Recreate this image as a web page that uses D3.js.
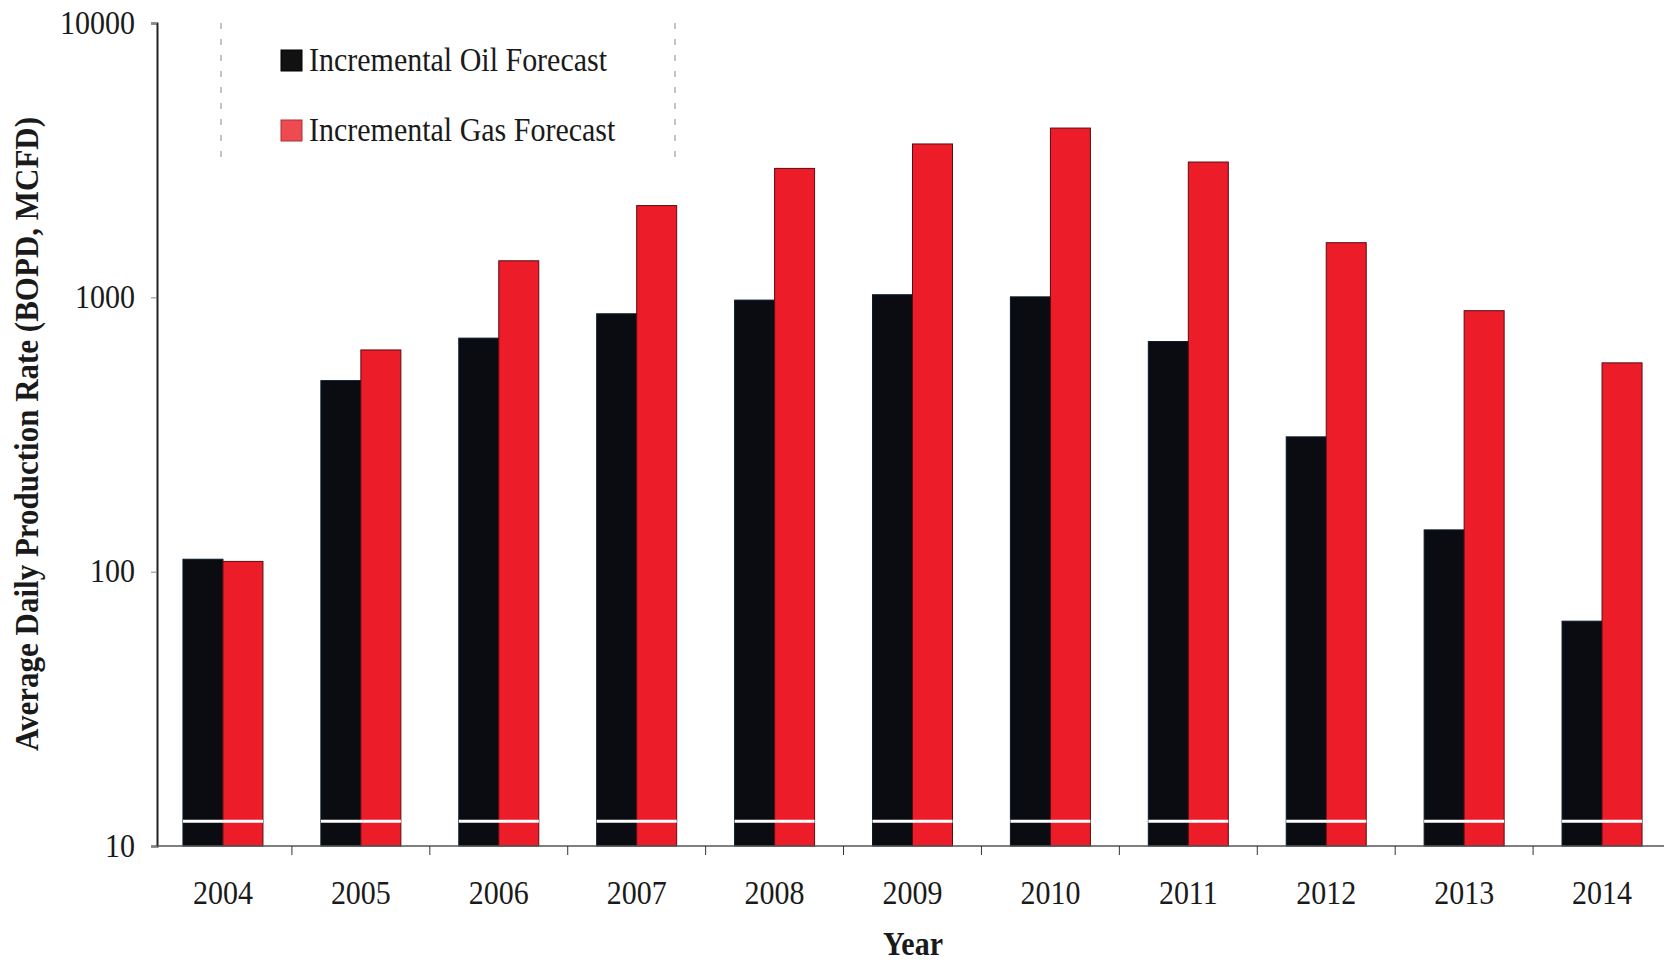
<!DOCTYPE html>
<html>
<head>
<meta charset="utf-8">
<script src="https://cdn.jsdelivr.net/npm/d3@7"></script>
<style>
  body { margin: 0; background: #fff; }
  text { font-family: "Liberation Serif", "Times New Roman", serif; fill: #1a1a1a; }
</style>
</head>
<body>
<div id="plot-container"></div>
<script>
// Data
const years = ["2004", "2005", "2006", "2007", "2008", "2009", "2010", "2011", "2012", "2013", "2014"];
const oilForecast = [111, 497, 710, 871, 977, 1022, 1004, 690, 310, 142, 66];
const gasForecast = [109, 643, 1359, 2160, 2951, 3623, 4140, 3113, 1582, 894, 577];
const seriesNames = ["Incremental Oil Forecast", "Incremental Gas Forecast"];
const seriesColors = ["#0b0b12", "#ec1c28"];
const yTicks = [10, 100, 1000, 10000];
const breakValue = 12.3; // white break line drawn across the bars

const W = 1664, H = 962;
const stretch = 1.1; // the scanned lettering is a little taller than normal

const svg = d3.select("#plot-container")
    .append("svg")
    .attr("width", W)
    .attr("height", H);

// Scales
const x = d3.scaleBand()
    .domain(years)
    .range([154, 1671])
    .padding(0);

const y = d3.scaleLog()
    .domain([10, 10000])
    .range([846, 23]);

const barW = 40;
const rows = years.map((yr, i) => ({ year: yr, values: [oilForecast[i], gasForecast[i]] }));

// Bars
const groups = svg.selectAll(".grp")
    .data(rows)
    .enter()
    .append("g")
    .attr("class", "grp")
    .attr("transform", d => `translate(${x(d.year) + x.bandwidth() / 2 - barW},0)`);

groups.selectAll("rect")
    .data(d => d.values)
    .enter()
    .append("rect")
    .attr("x", (d, i) => i * barW)
    .attr("y", d => y(d))
    .attr("width", barW)
    .attr("height", d => y(10) - y(d))
    .attr("fill", (d, i) => seriesColors[i])
    .attr("stroke", (d, i) => i === 0 ? "#0a1a2a" : "#5a0c10")
    .attr("stroke-width", 1);

// white break line through each pair of bars
groups.append("line")
    .attr("x1", 0)
    .attr("x2", barW * 2)
    .attr("y1", y(breakValue))
    .attr("y2", y(breakValue))
    .attr("stroke", "#fff")
    .attr("stroke-width", 3);

// Y axis
const yAxis = svg.append("g")
    .attr("transform", "translate(157,0)")
    .call(d3.axisLeft(y).tickValues(yTicks).tickFormat(d3.format("d")).tickSize(6).tickPadding(16));
yAxis.select(".domain").attr("stroke", "#222").attr("stroke-width", 2);
yAxis.selectAll(".tick line").attr("stroke", "#888");
yAxis.selectAll(".tick text")
    .style("font-size", "30px")
    .attr("fill", "#1a1a1a")
    .attr("dy", null)
    .attr("x", null)
    .attr("transform", `translate(-22,10) scale(1,${stretch})`);

// X axis: line, boundary ticks, year labels
svg.append("line")
    .attr("x1", 157).attr("x2", W)
    .attr("y1", y(10)).attr("y2", y(10))
    .attr("stroke", "#555").attr("stroke-width", 1.5);

svg.selectAll(".xtick")
    .data(years.slice(0, -1))
    .enter()
    .append("line")
    .attr("class", "xtick")
    .attr("x1", d => x(d) + x.bandwidth())
    .attr("x2", d => x(d) + x.bandwidth())
    .attr("y1", y(10))
    .attr("y2", y(10) + 9)
    .attr("stroke", "#333");

svg.selectAll(".xlabel")
    .data(years)
    .enter()
    .append("text")
    .attr("class", "xlabel")
    .attr("transform", d => `translate(${x(d) + x.bandwidth() / 2},904) scale(1,${stretch})`)
    .style("text-anchor", "middle")
    .style("font-size", "30px")
    .text(d => d);

// Axis titles
svg.append("text")
    .attr("transform", `translate(913,955) scale(1,${stretch})`)
    .style("text-anchor", "middle")
    .style("font-size", "30px")
    .style("font-weight", "bold")
    .text("Year");

svg.append("text")
    .attr("transform", `translate(38,434) rotate(-90) scale(1,${stretch})`)
    .style("text-anchor", "middle")
    .style("font-size", "31px")
    .style("font-weight", "bold")
    .text("Average Daily Production Rate (BOPD, MCFD)");

// Legend
const legend = svg.append("g");
[221, 675].forEach(lx => {
    legend.append("line")
        .attr("x1", lx).attr("x2", lx)
        .attr("y1", 23).attr("y2", 164)
        .attr("stroke", "#888")
        .attr("stroke-width", 1)
        .attr("stroke-dasharray", "6,10");
});

seriesNames.forEach((name, i) => {
    const ly = 50 + i * 70;
    legend.append("rect")
        .attr("x", 281).attr("y", ly)
        .attr("width", 21).attr("height", 21)
        .attr("fill", i === 0 ? "#111" : "#ee4a52")
        .attr("stroke", i === 0 ? "#000" : "#a33")
        .attr("stroke-width", 1);
    legend.append("text")
        .attr("transform", `translate(309,${ly + 21}) scale(1,${stretch})`)
        .style("font-size", "30px")
        .text(name);
});
</script>
</body>
</html>
